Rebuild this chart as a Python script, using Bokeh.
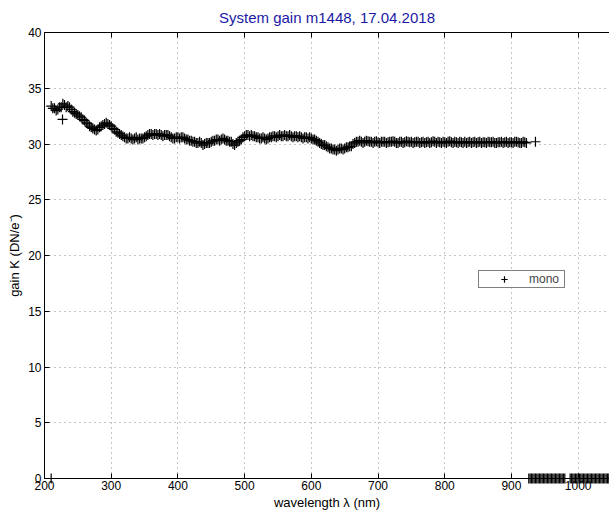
from bokeh.plotting import figure
from bokeh.models import Range1d, LinearAxis, FixedTicker, Legend, LegendItem, ColumnDataSource
from bokeh.embed import file_html
from bokeh.resources import INLINE

# ---- data ----
wavelength_main = list(range(210, 925, 5))
gain_main = [
    33.4, 33.2, 33.1, 33.3, 33.5, 33.4, 33.1, 32.8, 32.6, 32.4,
    32.1, 31.8, 31.5, 31.3, 31.3, 31.6, 31.8, 31.8, 31.6, 31.3,
    31.0, 30.8, 30.6, 30.5, 30.5, 30.5, 30.4, 30.5, 30.6, 30.8,
    30.9, 30.9, 30.8, 30.8, 30.8, 30.8, 30.6, 30.5, 30.6, 30.6,
    30.5, 30.4, 30.3, 30.2, 30.1, 30.1, 30.0, 30.1, 30.2, 30.3,
    30.4, 30.4, 30.4, 30.3, 30.2, 29.9, 30.2, 30.4, 30.7, 30.8,
    30.8, 30.7, 30.6, 30.5, 30.5, 30.5, 30.6, 30.7, 30.7, 30.7,
    30.8, 30.7, 30.7, 30.7, 30.6, 30.6, 30.6, 30.5, 30.5, 30.4,
    30.2, 30.0, 29.9, 29.7, 29.6, 29.5, 29.5, 29.6, 29.6, 29.7,
    29.8, 30.1, 30.2, 30.2, 30.2, 30.25, 30.2, 30.2, 30.15, 30.2,
    30.2, 30.15, 30.2, 30.2, 30.1, 30.2, 30.15, 30.2, 30.2, 30.15,
    30.2, 30.15, 30.1, 30.2, 30.15, 30.2, 30.2, 30.1, 30.15, 30.2,
    30.15, 30.2, 30.1, 30.15, 30.2, 30.15, 30.1, 30.2, 30.15, 30.1,
    30.15, 30.2, 30.15, 30.1, 30.15, 30.2, 30.15, 30.1, 30.15, 30.2,
    30.15, 30.1, 30.15,
]
wavelength_half = [w + 2.5 for w in wavelength_main]
gain_half = [
    33.2, 33.0, 33.3, 33.6, 33.3, 33.3, 32.9, 32.7, 32.5, 32.2,
    31.9, 31.6, 31.4, 31.2, 31.5, 31.7, 31.9, 31.7, 31.4, 31.1,
    30.9, 30.7, 30.5, 30.6, 30.4, 30.6, 30.5, 30.5, 30.7, 30.9,
    30.8, 30.9, 30.9, 30.7, 30.8, 30.7, 30.5, 30.6, 30.5, 30.6,
    30.4, 30.3, 30.2, 30.1, 30.2, 29.9, 30.1, 30.1, 30.3, 30.4,
    30.3, 30.5, 30.3, 30.2, 30.0, 30.1, 30.3, 30.6, 30.8, 30.7,
    30.7, 30.6, 30.5, 30.6, 30.4, 30.6, 30.7, 30.6, 30.8, 30.7,
    30.7, 30.8, 30.6, 30.7, 30.7, 30.5, 30.6, 30.6, 30.4, 30.3,
    30.1, 29.9, 29.8, 29.6, 29.5, 29.4, 29.6, 29.5, 29.7, 29.8,
    30.0, 30.2, 30.3, 30.1, 30.3, 30.2, 30.1, 30.25, 30.1, 30.2,
    30.1, 30.2, 30.25, 30.1, 30.2, 30.1, 30.25, 30.15, 30.1, 30.2,
    30.1, 30.2, 30.15, 30.1, 30.25, 30.1, 30.15, 30.2, 30.1, 30.25,
    30.1, 30.15, 30.2, 30.1, 30.1, 30.2, 30.15, 30.1, 30.2, 30.15,
    30.1, 30.15, 30.2, 30.1, 30.15, 30.1, 30.2, 30.15, 30.1, 30.2,
    30.1, 30.2, 30.1,
]
wavelength_extra = [210, 227, 936]
gain_extra = [0.0, 32.2, 30.2]
wavelength_zero = list(range(926, 982, 2)) + list(range(988, 1052, 2))
gain_zero = [0.0] * len(wavelength_zero)

x_ticks = [200, 300, 400, 500, 600, 700, 800, 900, 1000]
y_ticks = [0, 5, 10, 15, 20, 25, 30, 35, 40]

wl = wavelength_main + wavelength_half + wavelength_extra + wavelength_zero
gain = gain_main + gain_half + gain_extra + gain_zero
src = ColumnDataSource(dict(x=wl, y=gain))

FONT = "Liberation Sans"

p = figure(width=609, height=513, output_backend="svg", toolbar_location=None,
           x_range=Range1d(200, 1047), y_range=Range1d(0, 40),
           min_border_left=44, min_border_right=0, min_border_top=32, min_border_bottom=35,
           title="System gain m1448, 17.04.2018")
p.outline_line_color = None
p.background_fill_color = "white"
p.border_fill_color = "white"

p.title.align = "center"
p.title.vertical_align = "top"
p.title.text_font = FONT
p.title.text_font_size = "15px"
p.title.text_font_style = "normal"
p.title.text_color = "#1a1aa6"
p.title.standoff = 10

for ax in (p.xaxis[0], p.yaxis[0]):
    ax.major_tick_in = 5
    ax.major_tick_out = 0
    ax.minor_tick_in = 0
    ax.minor_tick_out = 0
    ax.axis_line_color = "black"
    ax.major_tick_line_color = "black"
    ax.major_label_text_font = FONT
    ax.major_label_text_font_size = "12px"
    ax.major_label_text_color = "black"
    ax.axis_label_text_font = FONT
    ax.axis_label_text_font_size = "13px"
    ax.axis_label_text_font_style = "normal"
    ax.axis_label_text_color = "black"

p.xaxis[0].ticker = FixedTicker(ticks=x_ticks)
p.yaxis[0].ticker = FixedTicker(ticks=y_ticks)
p.xaxis[0].axis_label = "wavelength λ (nm)"
p.yaxis[0].axis_label = "gain K (DN/e\u207b)"
p.xaxis[0].major_label_standoff = 2
p.xaxis[0].axis_label_standoff = 2
p.yaxis[0].major_label_standoff = 3
p.yaxis[0].axis_label_standoff = 3

top = LinearAxis(ticker=FixedTicker(ticks=x_ticks), major_tick_in=5, major_tick_out=0,
                 minor_tick_in=0, minor_tick_out=0, major_label_text_font_size="1px",
                 major_label_text_color=None, major_label_standoff=0,
                 axis_line_color="black")
p.add_layout(top, "above")

p.xgrid.ticker = FixedTicker(ticks=x_ticks)
p.ygrid.ticker = FixedTicker(ticks=y_ticks)
for g in (p.xgrid[0], p.ygrid[0]):
    g.grid_line_color = "#8c8c8c"
    g.grid_line_dash = "1 4"
    g.grid_line_width = 1

r = p.scatter("x", "y", source=src, marker="cross", size=10, line_color="black",
              line_width=1.2, level="overlay")

legend = Legend(items=[LegendItem(label="mono", renderers=[r])],
                location=(434, 190), border_line_color="black", border_line_width=1,
                background_fill_color="white", background_fill_alpha=1,
                padding=0, margin=0, spacing=0, label_standoff=0,
                glyph_width=50, glyph_height=16, label_height=16, label_width=35,
                label_text_font=FONT, label_text_font_size="12px")
p.add_layout(legend)

open("out.html", "w").write(file_html(p, INLINE))
